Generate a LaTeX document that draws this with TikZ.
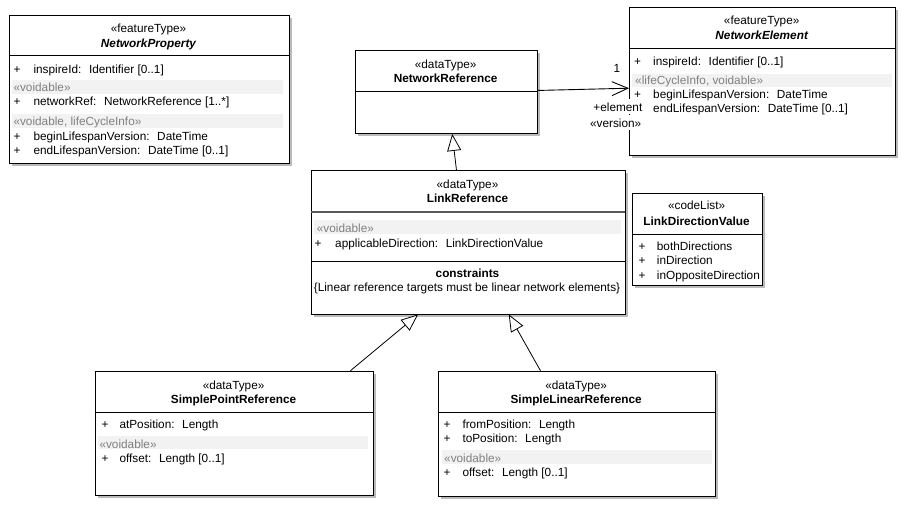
\documentclass[tikz,border=0pt]{standalone}
\usepackage{fontspec}
\setmainfont{Liberation Sans}
\usetikzlibrary{arrows.meta,shadows}
\definecolor{bandgray}{RGB}{242,242,242}
\definecolor{stgray}{RGB}{128,128,128}
\newcommand\umlfs{\fontsize{11.8}{14}\selectfont}
\tikzset{
  umlbox/.style={draw=black, line width=0.9pt, fill=white, rectangle, inner sep=0pt, anchor=north west,
    drop shadow={shadow xshift=3pt, shadow yshift=-3pt, fill=black!27, opacity=1}},
  divider/.style={draw=black, line width=0.9pt},
  thickdiv/.style={draw=black!65, line width=1.6pt},
  band/.style={fill=bandgray},
  txt/.style={anchor=west, inner sep=0pt, text height=8.6pt, text depth=0pt, font=\umlfs},
  hdr/.style={anchor=center, inner sep=0pt, text height=8.6pt, text depth=0pt, font=\umlfs},
  st/.style={txt, text=stgray},
  assoc/.style={draw=black, line width=0.9pt, -{Straight Barb[length=16pt, width=14pt, line width=0.9pt]}},
  gen/.style={draw=black, line width=0.8pt, -{Triangle[open, length=17pt, width=14pt, line width=0.8pt, fill=white]}},
  rolelbl/.style={anchor=east, inner xsep=1pt, inner ysep=3pt, text height=8.6pt, text depth=0pt, font=\umlfs, fill=white}
}
\begin{document}
\begin{tikzpicture}[x=1pt, y=-1pt]
\useasboundingbox (0,0) rectangle (905,507);

% ---------------- NetworkProperty ----------------
\node[umlbox, minimum width=280pt, minimum height=148pt] (np) at (8.5,14.5) {};
\draw[divider] (8.5,55.7) -- (288.5,55.7);
\node[hdr] (npst) at (148.5,28) {«featureType»};
\node[hdr, font=\umlfs\bfseries\itshape] (npname) at (148.5,43) {NetworkProperty};
\node[txt] (npp1) at (13.5,69) {+};
\node[txt] (npa1) at (33.3,69) {inspireId: \ Identifier [0..1]};
\fill[band] (12.3,80) rectangle (283.3,94);
\node[st] (npst1) at (13.3,87.5) {«voidable»};
\node[txt] (npp2) at (13.5,101) {+};
\node[txt] (npa2) at (33.3,101) {networkRef: \ NetworkReference [1..*]};
\fill[band] (12.3,114) rectangle (283.3,128);
\node[st] (npst2) at (13.3,121) {«voidable, lifeCycleInfo»};
\node[txt] (npp3) at (13.5,135.7) {+};
\node[txt] (npa3) at (33.3,135.7) {beginLifespanVersion: \ DateTime};
\node[txt] (npp4) at (13.5,150) {+};
\node[txt] (npa4) at (33.3,150) {endLifespanVersion: \ DateTime [0..1]};

% ---------------- NetworkReference ----------------
\node[umlbox, minimum width=182.5pt, minimum height=83.3pt] (nr) at (354.5,49.7) {};
\draw[divider] (354.5,91) -- (537,91);
\node[hdr] (nrst) at (445.7,64) {«dataType»};
\node[hdr, font=\umlfs\bfseries] (nrname) at (445.7,78) {NetworkReference};

% ---------------- NetworkElement ----------------
\node[umlbox, minimum width=265.5pt, minimum height=147.5pt] (ne) at (629,7) {};
\draw[divider] (629,48) -- (894.5,48);
\node[hdr] (nest) at (761.7,20) {«featureType»};
\node[hdr, font=\umlfs\bfseries\itshape] (nename) at (761.7,35) {NetworkElement};
\node[txt] (nep1) at (634,60.7) {+};
\node[txt] (nea1) at (653,60.7) {inspireId: \ Identifier [0..1]};
\fill[band] (631.7,73.5) rectangle (891.7,86.5);
\node[st] (nest1) at (635,80) {«lifeCycleInfo, voidable»};
\node[txt] (nep2) at (634,93.7) {+};
\node[txt] (nea2) at (653,93.7) {beginLifespanVersion: \ DateTime};
\node[txt] (nea3) at (653,108.5) {endLifespanVersion: \ DateTime [0..1]};

% ---------------- LinkReference ----------------
\node[umlbox, minimum width=314pt, minimum height=143.5pt] (lr) at (310.5,170) {};
\draw[thickdiv] (310.5,211.7) -- (624.5,211.7);
\node[hdr] (lrst) at (467.5,184.3) {«dataType»};
\node[hdr, font=\umlfs\bfseries] (lrname) at (467.5,198.3) {LinkReference};
\fill[band] (314,220) rectangle (621,234.3);
\node[st] (lrst1) at (316.7,227.7) {«voidable»};
\node[txt] (lrp1) at (314.3,242.7) {+};
\node[txt] (lra1) at (335,242.7) {applicableDirection: \ LinkDirectionValue};
\draw[divider] (310.5,261) -- (624.5,261);
\node[hdr, font=\umlfs\bfseries] (lrcon) at (467.5,273) {constraints};
\node[hdr] (lrc1) at (467,286.7) {\{Linear reference targets must be linear network elements\}};

% ---------------- LinkDirectionValue ----------------
\node[umlbox, minimum width=130.2pt, minimum height=92pt] (ldv) at (631.5,192.7) {};
\draw[divider] (631.5,234.7) -- (761.7,234.7);
\node[hdr] (ldvst) at (696.6,204.7) {«codeList»};
\node[hdr, font=\umlfs\bfseries] (ldvname) at (696.6,221.3) {LinkDirectionValue};
\node[txt] (ldvp1) at (638.3,246.5) {+};
\node[txt] (ldva1) at (656.7,246.5) {bothDirections};
\node[txt] (ldvp2) at (638.3,260.5) {+};
\node[txt] (ldva2) at (656.7,260.5) {inDirection};
\node[txt] (ldvp3) at (638.3,274.7) {+};
\node[txt] (ldva3) at (656.7,274.7) {inOppositeDirection};

% ---------------- SimplePointReference ----------------
\node[umlbox, minimum width=278.2pt, minimum height=124.3pt] (spr) at (94.5,370.7) {};
\draw[divider] (94.5,412.3) -- (372.7,412.3);
\node[hdr] (sprst) at (233.6,385) {«dataType»};
\node[hdr, font=\umlfs\bfseries] (sprname) at (233.6,399) {SimplePointReference};
\node[txt] (sprp1) at (101.5,424.3) {+};
\node[txt] (spra1) at (119.3,424.3) {atPosition: \ Length};
\fill[band] (98.3,435.7) rectangle (368.3,449);
\node[st] (sprst1) at (99.3,444) {«voidable»};
\node[txt] (sprp2) at (101.5,458.3) {+};
\node[txt] (spra2) at (119.3,458.3) {offset: \ Length [0..1]};

% ---------------- SimpleLinearReference ----------------
\node[umlbox, minimum width=277.5pt, minimum height=124.8pt] (slr) at (437.5,370.7) {};
\draw[divider] (437.5,412.3) -- (715,412.3);
\node[hdr] (slrst) at (576.2,385) {«dataType»};
\node[hdr, font=\umlfs\bfseries] (slrname) at (576.2,399) {SimpleLinearReference};
\node[txt] (slrp1) at (443.3,424.3) {+};
\node[txt] (slra1) at (462.3,424.3) {fromPosition: \ Length};
\node[txt] (slrp2) at (443.3,437.7) {+};
\node[txt] (slra2) at (462.3,437.7) {toPosition: \ Length};
\fill[band] (441.7,450) rectangle (711.7,464.3);
\node[st] (slrst1) at (444,458.3) {«voidable»};
\node[txt] (slrp3) at (443.3,472.3) {+};
\node[txt] (slra3) at (462.3,472.3) {offset: \ Length [0..1]};

% ---------------- Connectors ----------------
\draw[assoc] ([yshift=1.35pt]nr.east) -- ([yshift=-7pt]ne.west);
\node[hdr] (mult) at (617,68) {1};
\node[rolelbl] (role) at (643.5,106.7) {+element};
\node[rolelbl] (ver) at (642.5,122.7) {«version»};

\draw[gen] ([xshift=-11.5pt]lr.north) -- ([xshift=6pt]nr.south);
\draw[gen] ([xshift=116.4pt]spr.north) -- ([xshift=-49.8pt]lr.south);
\draw[gen] ([xshift=-36.25pt]slr.north) -- ([xshift=40.8pt]lr.south);
\end{tikzpicture}
\end{document}
